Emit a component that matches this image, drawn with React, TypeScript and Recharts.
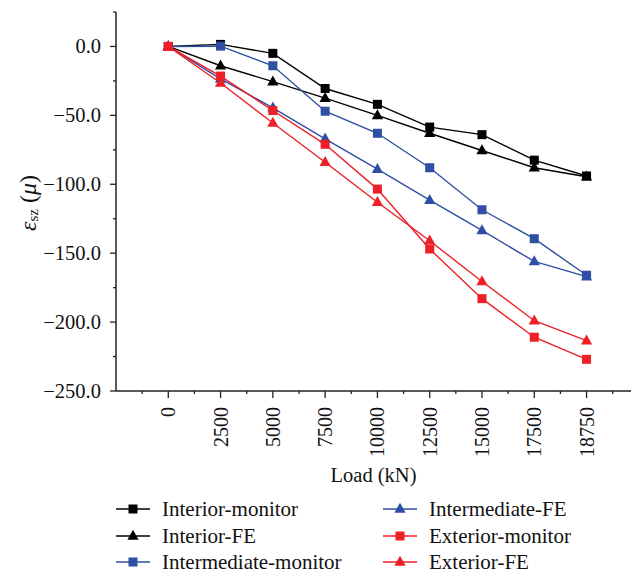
import React from 'react';
import { LineChart, Line, XAxis, YAxis, Legend } from 'recharts';

const LOADS = ['0', '2500', '5000', '7500', '10000', '12500', '15000', '17500', '18750'];

const interiorMonitor = [0, 1.5, -5, -30.5, -42, -58.5, -64, -82.5, -94];
const interiorFE = [0, -14, -25.5, -37.5, -50, -63, -75.5, -88, -94.5];
const intermediateMonitor = [0, 0.2, -14, -47, -63, -88, -118.5, -139.5, -166];
const intermediateFE = [0, -23.5, -44.5, -67, -89, -111.5, -133.5, -156, -167];
const exteriorMonitor = [0, -21.5, -46.5, -71, -103.5, -147, -183, -211, -227];
const exteriorFE = [0, -26.5, -55.5, -84, -113, -141, -170.5, -199, -213.5];

const X_TICKS = [-0.5, 0, 0.5, 1, 1.5, 2, 2.5, 3, 3.5, 4, 4.5, 5, 5.5, 6, 6.5, 7, 7.5, 8, 8.5];
const Y_TICKS = [-250, -225, -200, -175, -150, -125, -100, -75, -50, -25, 0, 25];

const FONT = '"Liberation Serif", "DejaVu Serif", serif';
const BLACK = '#000000';
const BLUE = '#2f4fa3';
const RED = '#ee1f26';

const SERIES = [
  { key: 'interiorMonitor', name: 'Interior-monitor', color: BLACK, shape: 'square' },
  { key: 'interiorFE', name: 'Interior-FE', color: BLACK, shape: 'triangle' },
  { key: 'intermediateMonitor', name: 'Intermediate-monitor', color: BLUE, shape: 'square' },
  { key: 'intermediateFE', name: 'Intermediate-FE', color: BLUE, shape: 'triangle' },
  { key: 'exteriorMonitor', name: 'Exterior-monitor', color: RED, shape: 'square' },
  { key: 'exteriorFE', name: 'Exterior-FE', color: RED, shape: 'triangle' },
];

const data = LOADS.map((load, i) => ({
  idx: i,
  load,
  interiorMonitor: interiorMonitor[i],
  interiorFE: interiorFE[i],
  intermediateMonitor: intermediateMonitor[i],
  intermediateFE: intermediateFE[i],
  exteriorMonitor: exteriorMonitor[i],
  exteriorFE: exteriorFE[i],
}));

function Marker({ cx, cy, color, shape }: { cx: number; cy: number; color: string; shape: string }) {
  if (shape === 'square') {
    return <rect x={cx - 4.5} y={cy - 4.5} width={9} height={9} fill={color} />;
  }
  const h = 10;
  return (
    <polygon
      points={`${cx},${cy - h * 0.62} ${cx - 5.6},${cy + h * 0.38} ${cx + 5.6},${cy + h * 0.38}`}
      fill={color}
    />
  );
}

const XTick = (props: any) => {
  const { x, y, payload } = props;
  const v = payload.value as number;
  const major = Number.isInteger(v);
  return (
    <g>
      <line x1={x} y1={y} x2={x} y2={y + (major ? 7 : 3)} stroke="#222" strokeWidth={1.3} />
      {major && (
        <text
          x={x}
          y={y + 16}
          transform={`rotate(-90, ${x}, ${y + 16})`}
          textAnchor="end"
          dominantBaseline="central"
          fontFamily={FONT}
          fontSize={20}
          fill="#111"
        >
          {LOADS[v]}
        </text>
      )}
    </g>
  );
};

const YTick = (props: any) => {
  const { x, y, payload } = props;
  const v = payload.value as number;
  const major = v % 50 === 0;
  const label = v.toFixed(1).replace('-', '\u2212');
  return (
    <g>
      <line x1={x - (major ? 6 : 3)} y1={y} x2={x} y2={y} stroke="#222" strokeWidth={1.3} />
      {major && (
        <text
          x={x - 15}
          y={y}
          textAnchor="end"
          dominantBaseline="central"
          fontFamily={FONT}
          fontSize={20.5}
          fill="#111"
        >
          {label}
        </text>
      )}
    </g>
  );
};

const YLabel = () => (
  <text
    x={28}
    y={203}
    transform="rotate(-90, 28, 203)"
    textAnchor="middle"
    dominantBaseline="central"
    fontFamily={FONT}
    fontSize={24}
    fill="#111"
  >
    <tspan fontStyle="italic">ε</tspan>
    <tspan fontSize={15} dy={5}>sz</tspan>
    <tspan dy={-5}> (</tspan>
    <tspan fontStyle="italic">μ</tspan>
    <tspan>)</tspan>
  </text>
);

const XLabel = (props: any) => {
  const vb = props.viewBox;
  return (
    <text
      x={vb.x + vb.width / 2}
      y={vb.y + 84}
      textAnchor="middle"
      dominantBaseline="central"
      fontFamily={FONT}
      fontSize={20.5}
      fill="#111"
    >
      Load (kN)
    </text>
  );
};

const LegendBox = () => (
  <div style={{ position: 'relative', width: 631, height: 80, fontFamily: FONT, fontSize: 21, color: '#111' }}>
    {SERIES.map((s, i) => {
      const col = Math.floor(i / 3);
      const row = i % 3;
      const left = col === 0 ? 116 : 383;
      const cy = 13 + row * 26.5;
      return (
        <div key={s.key}>
          <svg style={{ position: 'absolute', left, top: cy - 7 }} width={34} height={14}>
            <line x1={0} y1={7} x2={34} y2={7} stroke={s.color} strokeWidth={1.5} />
            <Marker cx={17} cy={7} color={s.color} shape={s.shape} />
          </svg>
          <span style={{ position: 'absolute', left: left + 46, top: cy - 12, lineHeight: '24px', whiteSpace: 'nowrap' }}>
            {s.name}
          </span>
        </div>
      );
    })}
  </div>
);

export default function App() {
  return (
    <div style={{ position: 'absolute', left: 0, top: 0, background: '#fff' }}>
      <LineChart width={631} height={576} data={data} margin={{ top: 12, right: 0, bottom: 0, left: 0 }}>
        <XAxis
          dataKey="idx"
          type="number"
          domain={[-1, 8.85]}
          allowDataOverflow
          ticks={X_TICKS}
          interval={0}
          tick={<XTick />}
          tickLine={false}
          tickSize={0}
          tickMargin={0}
          axisLine={{ stroke: '#222', strokeWidth: 1.5 }}
          height={105}
          label={<XLabel />}
        />
        <YAxis
          type="number"
          domain={[-250, 25]}
          allowDataOverflow
          ticks={Y_TICKS}
          interval={0}
          tick={<YTick />}
          tickLine={false}
          tickSize={0}
          tickMargin={0}
          axisLine={{ stroke: '#222', strokeWidth: 1.5 }}
          width={116}
          label={<YLabel />}
        />
        <Legend
          verticalAlign="bottom"
          content={<LegendBox />}
          wrapperStyle={{ left: 0, bottom: 0, width: 631, height: 80 }}
        />
        {SERIES.map((s) => (
          <Line
            key={s.key}
            type="linear"
            dataKey={s.key}
            name={s.name}
            stroke={s.color}
            strokeWidth={1.4}
            isAnimationActive={false}
            dot={(p: any) => <Marker key={`${s.key}-${p.index}`} cx={p.cx} cy={p.cy} color={s.color} shape={s.shape} />}
            activeDot={false}
          />
        ))}
      </LineChart>
    </div>
  );
}
